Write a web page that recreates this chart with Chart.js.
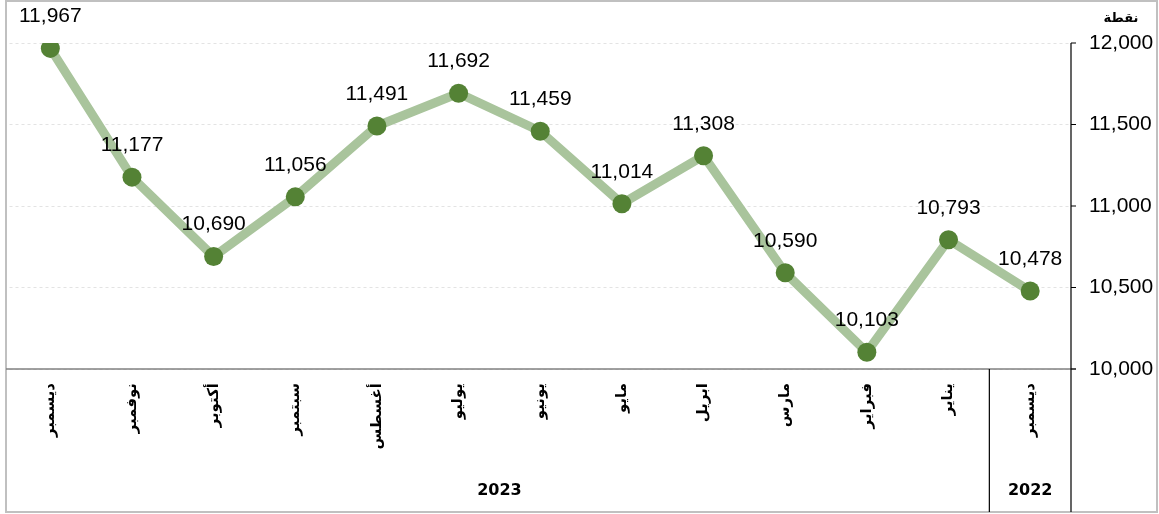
<!DOCTYPE html>
<html>
<head>
<meta charset="utf-8">
<script src="https://cdn.jsdelivr.net/npm/chart.js@4"></script>
<style>
  body { margin: 0; background: #fff; }
  #wrap { width: 1159px; height: 514px; }
</style>
</head>
<body>
<div id="wrap"><canvas id="grafico"></canvas></div>
<script>
// dados do gráfico (ordem cronológica, eixo x invertido)
var meses = ['ديسمبر', 'يناير', 'فبراير', 'مارس', 'ابريل', 'مايو', 'يونيو', 'يوليو', 'أغسطس', 'سبتمبر', 'أكتوبر', 'نوفمبر', 'ديسمبر'];
var anos = ['2022', '2023', '2023', '2023', '2023', '2023', '2023', '2023', '2023', '2023', '2023', '2023', '2023'];
var valores = [10478, 10793, 10103, 10590, 11308, 11014, 11459, 11692, 11491, 11056, 10690, 11177, 11967];
var yTicks = [10000, 10500, 11000, 11500, 12000];
var unidade = 'نقطة';

var fmt = function (v) { return v.toLocaleString('en-US'); };

// rótulos, linhas da tabela e anos
var extras = {
  id: 'extras',
  afterDatasetsDraw: function (chart) {
    var c = chart.ctx;
    var meta = chart.getDatasetMeta(0);
    c.save();
    c.fillStyle = '#000';
    c.font = '21px "Liberation Sans", Arial, sans-serif';
    c.textAlign = 'center';
    c.textBaseline = 'middle';
    meta.data.forEach(function (p, i) {
      c.fillText(fmt(valores[i]), p.x, p.y - 32);
    });
    c.restore();
  },
  afterDraw: function (chart) {
    var c = chart.ctx, a = chart.chartArea, y = chart.scales.y, x = chart.scales.x;
    var H = chart.height, W = chart.width;
    c.save();
    // moldura
    c.strokeStyle = '#c0c0c0';
    c.lineWidth = 2;
    c.strokeRect(6, 1, W - 8, H - 3);
    // eixo x
    c.strokeStyle = '#808080';
    c.lineWidth = 1.5;
    c.beginPath();
    c.moveTo(6, a.bottom); c.lineTo(a.right + 5, a.bottom);
    c.stroke();
    // eixo y
    c.strokeStyle = '#000';
    c.lineWidth = 1.2;
    c.beginPath();
    c.moveTo(a.right, y.getPixelForValue(12000)); c.lineTo(a.right, H - 2);
    yTicks.forEach(function (t) {
      var py = y.getPixelForValue(t);
      c.moveTo(a.right, py); c.lineTo(a.right + 5, py);
    });
    c.stroke();
    // separadores de ano
    c.beginPath();
    for (var i = 1; i < anos.length; i++) {
      if (anos[i] !== anos[i - 1]) {
        var sx = (x.getPixelForValue(i) + x.getPixelForValue(i - 1)) / 2;
        c.moveTo(sx, a.bottom); c.lineTo(sx, H - 2);
      }
    }
    c.stroke();
    // anos
    c.font = 'bold 16px "DejaVu Sans", sans-serif';
    c.textAlign = 'center';
    c.textBaseline = 'middle';
    c.fillStyle = '#000';
    var grupos = {};
    anos.forEach(function (an, i) {
      var px = x.getPixelForValue(i);
      if (!grupos[an]) grupos[an] = [px, px];
      grupos[an][0] = Math.min(grupos[an][0], px);
      grupos[an][1] = Math.max(grupos[an][1], px);
    });
    Object.keys(grupos).forEach(function (an) {
      c.fillText(an, (grupos[an][0] + grupos[an][1]) / 2, 491);
    });
    // unidade
    c.font = 'bold 13px "DejaVu Sans", sans-serif';
    c.fillText(unidade, 1121, 19);
    c.restore();
  }
};

var ctx = grafico.getContext('2d');

var chart = new Chart(ctx, {
  type: 'line',
  data: {
    labels: meses,
    datasets: [{
      data: valores,
      borderColor: '#a9c49c',
      borderWidth: 9,
      pointRadius: 9.5,
      pointBackgroundColor: '#548235',
      pointBorderColor: '#548235',
      pointBorderWidth: 0,
      tension: 0
    }]
  },
  options: {
    responsive: true,
    maintainAspectRatio: false,
    animation: false,
    layout: { padding: { top: 43, left: 6, right: 0, bottom: 0 } },
    plugins: { legend: { display: false }, tooltip: { enabled: false } },
    scales: {
      x: {
        reverse: true,
        offset: true,
        grid: { display: false, drawTicks: false },
        border: { display: false },
        ticks: {
          autoSkip: false,
          minRotation: 90,
          maxRotation: 90,
          padding: 14,
          color: '#000',
          font: { family: '"DejaVu Sans", sans-serif', size: 15, weight: 'bold' }
        },
        afterFit: function (s) { s.height = 145; }
      },
      y: {
        position: 'right',
        min: 10000,
        max: 12000,
        afterBuildTicks: function (s) { s.ticks = yTicks.map(function (v) { return { value: v }; }); },
        grid: { color: '#e3e3e3', drawTicks: false, tickLength: 0 },
        border: { display: false, dash: [3, 3] },
        ticks: {
          padding: 18,
          color: '#000',
          font: { family: '"Liberation Sans", Arial, sans-serif', size: 21 },
          callback: function (v) { return fmt(v); }
        },
        afterFit: function (s) { s.width = 88; }
      }
    }
  },
  plugins: [extras]
});
</script>
</body>
</html>
